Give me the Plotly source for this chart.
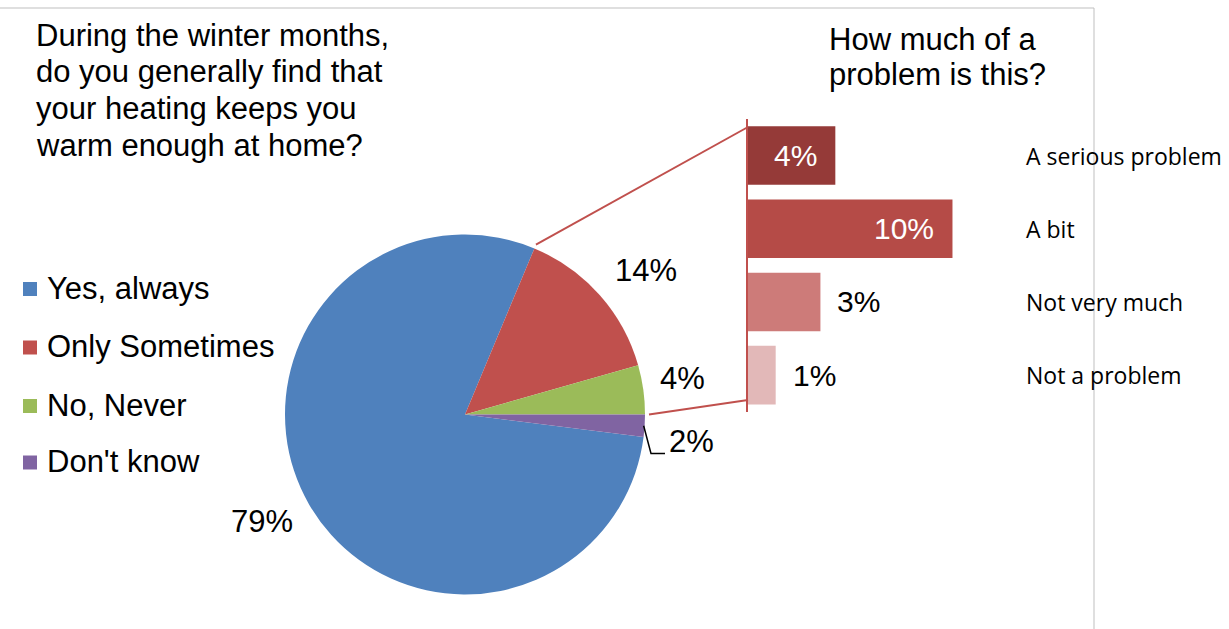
import math
import plotly.graph_objects as go

# Survey answers: heating keeps you warm in winter?
answers = ["Yes, always", "Only Sometimes", "No, Never", "Don't know"]
answer_shares = [79.3, 14.3, 4.4, 2.0]

# Follow-up: how much of a problem (asked of "Only Sometimes")
problem_levels = ["A serious problem", "A bit", "Not very much", "Not a problem"]
problem_shares = [4.1, 9.6, 3.4, 1.3]

# Question texts, one entry per line
left_title_lines = ["During the winter months,", "do you generally find that",
                    "your heating keeps you", "warm enough at home?"]
right_title_lines = ["How much of a", "problem is this?"]

# Styling
pie_colors = ["#4F81BD", "#C0504D", "#9BBB59", "#8064A2"]
bar_colors = ["#953A38", "#B54B47", "#CD7B79", "#E2B8B8"]
bar_label_inside = [True, True, False, False]
connector_color = "#C0504D"
frame_color = "#BFBFBF"
TEXT_FONT = "Liberation Sans, Arial, sans-serif"
CAT_FONT = "Open Sans, sans-serif"
BIG = 31

W, H = 1229, 629


def px(x):
    return x / W


def py(y):
    return 1 - y / H


def paper_text(x, y, text, size, color="#000000", family=TEXT_FONT, xanchor="left"):
    return dict(x=px(x), y=py(y), xref="paper", yref="paper",
                xanchor=xanchor, yanchor="middle", showarrow=False,
                text=text, font=dict(family=family, size=size, color=color))


# Pie geometry (pixels)
CX, CY, R = 465.0, 414.5, 180.0
total = sum(answer_shares)
rotation = 90 + answer_shares[-1] / total * 360

fig = go.Figure()

fig.add_trace(go.Pie(
    labels=answers,
    values=answer_shares,
    sort=False,
    direction="clockwise",
    rotation=rotation,
    marker=dict(colors=pie_colors, line=dict(width=0)),
    textinfo="none",
    showlegend=False,
    domain=dict(x=[px(CX - R), px(CX + R)], y=[py(CY + R), py(CY - R)]),
    hoverinfo="label+percent",
))

fig.add_trace(go.Bar(
    x=problem_shares,
    y=problem_levels,
    orientation="h",
    marker=dict(color=bar_colors, line=dict(width=0)),
    showlegend=False,
    hoverinfo="x+y",
))

BAR_X0, BAR_X1 = 748.0, 1010.0
BAR_Y0, BAR_Y1 = 119.0, 411.7
PX_PER_UNIT = 21.3

annotations = []

# Question headings
for i, line in enumerate(left_title_lines):
    annotations.append(paper_text(34, 35 + i * 36.7, line, BIG))
for i, line in enumerate(right_title_lines):
    annotations.append(paper_text(827, 39 + i * 35, line, BIG))

# Pie percentage labels
pie_label_pos = [(262, 521.5), (646, 270), (682, 378), (691, 441)]
for v, (lx, ly) in zip(answer_shares, pie_label_pos):
    annotations.append(paper_text(lx, ly, f"{v:.0f}%", BIG, xanchor="center"))

# Legend: colour key plus answer name
legend_rows = [288, 346.5, 405, 461.5]
shapes = []
for name, col, ly in zip(answers, pie_colors, legend_rows):
    shapes.append(dict(type="rect", xref="paper", yref="paper",
                       x0=px(23), x1=px(37), y0=py(ly + 8), y1=py(ly - 6),
                       fillcolor=col, line=dict(width=0)))
    annotations.append(paper_text(45, ly, name, BIG))

# Bar value labels
for v, lvl, inside in zip(problem_shares, problem_levels, bar_label_inside):
    annotations.append(dict(
        x=v, y=lvl, xref="x", yref="y", showarrow=False,
        xanchor="right" if inside else "left", yanchor="middle",
        xshift=-16 if inside else 15,
        text=f"{v:.0f}%",
        font=dict(family=TEXT_FONT, size=30, color="#FFFFFF" if inside else "#000000"),
    ))

# Category names to the right of the bars
for lvl in problem_levels:
    annotations.append(dict(
        x=px(1024), y=lvl, xref="paper", yref="y", xanchor="left", yanchor="middle",
        showarrow=False, text=lvl, font=dict(family=CAT_FONT, size=23, color="#000000"),
    ))

# Connector lines from the "Only Sometimes" slice to the bar axis
green, red = answer_shares[2], answer_shares[1]
a_top = math.radians((green + red) / total * 360)
a_bot = 0.0
r_off = R + 4
top_pt = (CX + r_off * math.cos(a_top), CY - r_off * math.sin(a_top))
bot_pt = (CX + r_off * math.cos(a_bot), CY - r_off * math.sin(a_bot))
shapes.append(dict(type="line", xref="paper", yref="paper",
                   x0=px(top_pt[0]), y0=py(top_pt[1]), x1=px(BAR_X0), y1=py(127),
                   line=dict(color=connector_color, width=2)))
shapes.append(dict(type="line", xref="paper", yref="paper",
                   x0=px(bot_pt[0]), y0=py(bot_pt[1]), x1=px(BAR_X0), y1=py(400),
                   line=dict(color=connector_color, width=2)))

# Leader line for the small "Don't know" slice
a_mid = -math.radians(answer_shares[3] / total * 360 / 2)
lx0, ly0 = CX + (R - 1) * math.cos(a_mid), CY - (R - 1) * math.sin(a_mid)
shapes.append(dict(type="path", xref="paper", yref="paper",
                   path=f"M {px(lx0)} {py(ly0)} L {px(651)} {py(453.5)} L {px(665)} {py(453.5)}",
                   line=dict(color="#000000", width=1.5)))

# Outer frame (top and right edges)
shapes.append(dict(type="line", xref="paper", yref="paper", layer="above",
                   x0=0, y0=py(8), x1=px(1094), y1=py(8),
                   line=dict(color=frame_color, width=1)))
shapes.append(dict(type="line", xref="paper", yref="paper", layer="above",
                   x0=px(1094), y0=py(8), x1=px(1094), y1=0,
                   line=dict(color=frame_color, width=1)))

fig.update_layout(
    width=W, height=H, autosize=False,
    margin=dict(l=0, r=0, t=0, b=0, pad=0),
    paper_bgcolor="#FFFFFF", plot_bgcolor="rgba(0,0,0,0)",
    bargap=0.2,
    xaxis=dict(domain=[px(BAR_X0), px(BAR_X1)],
               range=[0, (BAR_X1 - BAR_X0) / PX_PER_UNIT],
               visible=False, fixedrange=True),
    yaxis=dict(domain=[py(BAR_Y1), py(BAR_Y0)], type="category",
               categoryorder="array", categoryarray=problem_levels,
               range=[len(problem_levels) - 0.5, -0.5],
               showline=True, linecolor=connector_color, linewidth=2,
               showticklabels=False, ticks="", showgrid=False, zeroline=False,
               fixedrange=True),
    annotations=annotations,
    shapes=shapes,
)

fig.write_html("out.html")
